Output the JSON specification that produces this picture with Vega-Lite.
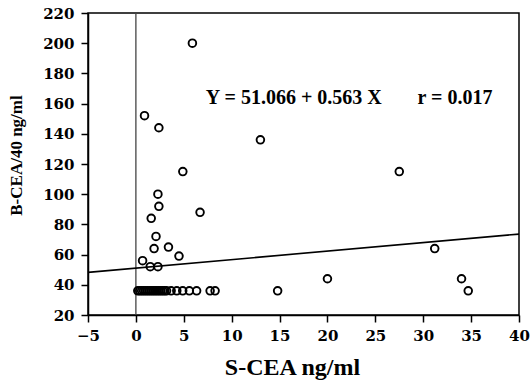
{
  "$schema": "https://vega.github.io/schema/vega-lite/v6.json",
  "autosize": "none",
  "width": 431,
  "height": 302,
  "padding": {"left": 88, "top": 13, "right": 11, "bottom": 65},
  "background": "white",
  "config": {
    "view": {"stroke": "black", "strokeWidth": 1.5},
    "font": "Liberation Serif"
  },
  "datasets": {
    "pts": [
      {"s": 5.9, "b": 200}, {"s": 0.9, "b": 152}, {"s": 2.4, "b": 144}, {"s": 13, "b": 136},
      {"s": 4.9, "b": 115}, {"s": 27.5, "b": 115}, {"s": 2.3, "b": 100}, {"s": 2.4, "b": 92},
      {"s": 6.7, "b": 88}, {"s": 1.6, "b": 84}, {"s": 2.1, "b": 72}, {"s": 1.9, "b": 64},
      {"s": 3.4, "b": 65}, {"s": 31.2, "b": 64}, {"s": 4.5, "b": 59}, {"s": 0.7, "b": 56},
      {"s": 1.5, "b": 52}, {"s": 2.3, "b": 52}, {"s": 20, "b": 44}, {"s": 34, "b": 44},
      {"s": 34.7, "b": 36}, {"s": 14.8, "b": 36},
      {"s": 0.2, "b": 36}, {"s": 0.4, "b": 36}, {"s": 0.6, "b": 36}, {"s": 0.8, "b": 36},
      {"s": 1.0, "b": 36}, {"s": 1.2, "b": 36}, {"s": 1.4, "b": 36}, {"s": 1.6, "b": 36},
      {"s": 1.8, "b": 36}, {"s": 2.0, "b": 36}, {"s": 2.2, "b": 36}, {"s": 2.4, "b": 36},
      {"s": 2.6, "b": 36}, {"s": 2.8, "b": 36}, {"s": 3.0, "b": 36}, {"s": 3.2, "b": 36},
      {"s": 3.68, "b": 36}, {"s": 4.27, "b": 36}, {"s": 4.89, "b": 36}, {"s": 5.58, "b": 36},
      {"s": 6.34, "b": 36}, {"s": 7.75, "b": 36}, {"s": 8.27, "b": 36}
    ],
    "fit": [{"s": -5, "b": 48.251}, {"s": 40, "b": 73.586}],
    "zero": [{"s": 0, "b": 20}, {"s": 0, "b": 220}],
    "labels": [
      {"tx": 7.3, "ty": 163.5, "label": "Y = 51.066 + 0.563 X"},
      {"tx": 29.4, "ty": 163.5, "label": "r = 0.017"}
    ]
  },
  "encoding": {
    "x": {
      "type": "quantitative",
      "scale": {"domain": [-5, 40], "nice": false, "zero": false},
      "axis": {
        "title": "S-CEA ng/ml",
        "values": [-5, 0, 5, 10, 15, 20, 25, 30, 35, 40],
        "format": "d",
        "grid": false,
        "domainColor": "black", "domainWidth": 1.5,
        "tickColor": "black", "tickWidth": 1.5, "tickSize": 7,
        "labelFont": "DejaVu Serif", "labelFontWeight": "bold", "labelFontSize": 15, "labelColor": "black",
        "labelPadding": 6, "labelFlush": false,
        "titleFont": "Liberation Serif", "titleFontWeight": "bold",
        "titleFontSize": 24, "titleColor": "black",
        "titleX": 204, "titleY": 59, "titleBaseline": "alphabetic"
      }
    },
    "y": {
      "type": "quantitative",
      "scale": {"domain": [20, 220], "nice": false, "zero": false},
      "axis": {
        "title": "B-CEA/40 ng/ml",
        "values": [20, 40, 60, 80, 100, 120, 140, 160, 180, 200, 220],
        "grid": false,
        "domainColor": "black", "domainWidth": 1.5,
        "tickColor": "black", "tickWidth": 1.5, "tickSize": 7,
        "labelFont": "DejaVu Serif", "labelFontWeight": "bold", "labelFontSize": 15, "labelColor": "black",
        "labelPadding": 7, "labelFlush": false,
        "titleFont": "Liberation Serif", "titleFontWeight": "bold",
        "titleFontSize": 17, "titleColor": "black",
        "titleX": -63, "titleY": 142, "titleAngle": -90, "titleAlign": "center", "titleBaseline": "bottom"
      }
    }
  },
  "layer": [
    {
      "data": {"name": "zero"},
      "mark": {"type": "line", "color": "#444444", "strokeWidth": 1.3},
      "encoding": {"x": {"field": "s"}, "y": {"field": "b"}}
    },
    {
      "data": {"name": "fit"},
      "mark": {"type": "line", "color": "black", "strokeWidth": 1.6},
      "encoding": {"x": {"field": "s"}, "y": {"field": "b"}}
    },
    {
      "data": {"name": "pts"},
      "mark": {"type": "point", "shape": "circle", "filled": false, "color": "black", "strokeWidth": 1.9, "size": 58, "opacity": 1},
      "encoding": {"x": {"field": "s"}, "y": {"field": "b"}}
    },
    {
      "data": {"name": "labels"},
      "mark": {"type": "text", "align": "left", "baseline": "middle", "font": "Liberation Serif", "fontWeight": "bold", "fontSize": 20, "color": "black"},
      "encoding": {"x": {"field": "tx"}, "y": {"field": "ty"}, "text": {"field": "label"}}
    }
  ]
}
